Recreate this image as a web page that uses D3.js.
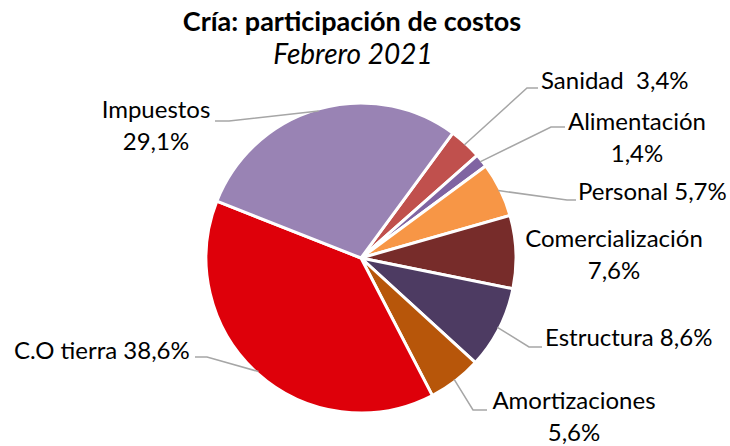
<!DOCTYPE html>
<html>
<head>
<meta charset="utf-8">
<script src="https://cdn.jsdelivr.net/npm/d3@7"></script>
<style>
  body { margin: 0; background: #fff; }
  text { font-family: Lato, "Open Sans", sans-serif; fill: #000; }
</style>
</head>
<body>
<script>

// data
var categories = ["Sanidad", "Alimentación", "Personal", "Comercialización", "Estructura", "Amortizaciones", "C.O tierra", "Impuestos"];
var values = [3.4, 1.4, 5.7, 7.6, 8.6, 5.6, 38.6, 29.1];
var colors = ["#C0504D", "#8064A2", "#F79646", "#772C2A", "#4D3B62", "#B7560A", "#DE000A", "#9983B4"];

// label layout: text lines, text anchor point, elbow of leader line (null = no leader)
var labelLayout = [
  { lines: ["Sanidad  3,4%"], x: 541, y: 89, anchor: "start", elbow: [527, 88], end: [538, 88] },
  { lines: ["Alimentación", "1,4%"], x: 637, y: 130, anchor: "middle", elbow: [551, 127], end: [565, 127] },
  { lines: ["Personal 5,7%"], x: 578, y: 200, anchor: "start", elbow: [567, 200], end: [576, 200] },
  { lines: ["Comercialización", "7,6%"], x: 614, y: 247, anchor: "middle", elbow: null },
  { lines: ["Estructura 8,6%"], x: 545, y: 346, anchor: "start", elbow: [529, 347], end: [542, 347] },
  { lines: ["Amortizaciones", "5,6%"], x: 574, y: 409, anchor: "middle", elbow: [473, 410], end: [487, 410] },
  { lines: ["C.O tierra 38,6%"], x: 14, y: 359, anchor: "start", elbow: [207, 357], end: [195, 357] },
  { lines: ["Impuestos", "29,1%"], x: 156, y: 118, anchor: "middle", elbow: [229, 121], end: [215, 121] }
];

var width = 730, height = 446;
var cx = 361, cy = 258, radius = 155;
var startAngle = 36.3 * Math.PI / 180;

var svg = d3.select("body")
  .append("svg")
  .attr("width", width)
  .attr("height", height);

svg.append("text")
  .attr("x", 352)
  .attr("y", 31)
  .attr("text-anchor", "middle")
  .style("font-size", "27px")
  .style("font-weight", "bold")
  .text("Cría: participación de costos");

svg.append("text")
  .attr("x", 353)
  .attr("y", 64)
  .attr("text-anchor", "middle")
  .style("font-size", "28px")
  .style("font-style", "italic")
  .text("Febrero 2021");

var pie = d3.pie()
  .sort(null)
  .value(function(d) { return d; })
  .startAngle(startAngle)
  .endAngle(startAngle + 2 * Math.PI);

var arc = d3.arc()
  .innerRadius(0)
  .outerRadius(radius);

var arcs = pie(values);

var g = svg.append("g")
  .attr("transform", `translate(${cx},${cy})`);

g.selectAll("path")
  .data(arcs)
  .enter()
  .append("path")
    .attr("d", arc)
    .attr("fill", function(d, i) { return colors[i]; })
    .attr("stroke", "#fff")
    .attr("stroke-width", 3)
    .attr("stroke-linejoin", "round");

// leader lines
arcs.forEach(function(d, i) {
  var lab = labelLayout[i];
  if (!lab.elbow) return;
  var a = (d.startAngle + d.endAngle) / 2;
  var r0 = radius - 2;
  var p0 = [cx + r0 * Math.sin(a), cy - r0 * Math.cos(a)];
  svg.append("polyline")
    .attr("points", [p0, lab.elbow, lab.end].map(function(p) { return p.join(","); }).join(" "))
    .attr("fill", "none")
    .attr("stroke", "#A6A6A6")
    .attr("stroke-width", 1.5);
});

labelLayout.forEach(function(lab) {
  var t = svg.append("text")
    .attr("x", lab.x)
    .attr("y", lab.y)
    .attr("text-anchor", lab.anchor)
    .style("font-size", "24px");
  lab.lines.forEach(function(line, k) {
    t.append("tspan")
      .attr("x", lab.x)
      .attr("dy", k === 0 ? 0 : 32)
      .attr("xml:space", "preserve")
      .text(line);
  });
});

</script>
</body>
</html>
